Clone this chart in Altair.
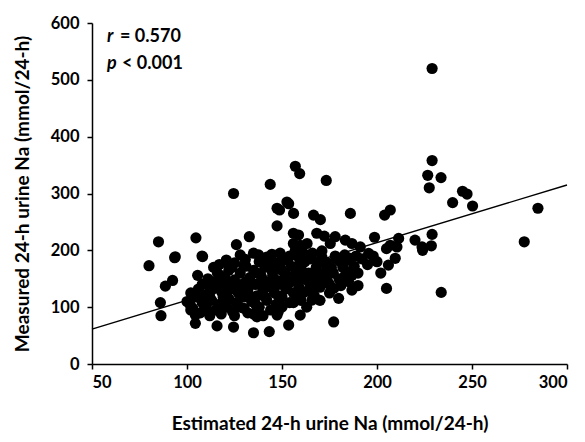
import altair as alt
import pandas as pd

# Estimated 24-h urine Na (x) and measured 24-h urine Na (y)
est_na = [
    80, 85, 93.5, 88.6, 92.4, 86, 86.3, 104.7, 108.2, 105.6,
    124.5, 126, 132.8, 121, 123.7, 129.8, 114, 117.5, 102, 104.4,
    115.8, 124.5, 135, 123.7, 119, 136.8, 143.8, 173.3, 229, 229,
    226.7, 233.7, 227.5, 239.8, 245, 247.4, 250.3, 284.7, 277.5, 233.8,
    229, 228.6, 224, 157, 159.3, 152.6, 148.7, 156.1, 147.4, 166.6,
    170.2, 168.3, 172.3, 156, 158.7, 159.6, 178, 183.3, 171, 186,
    137.7, 144.7, 150, 157, 160.5, 162.3, 204, 207, 186.8, 191.2,
    195.6, 198.7, 207, 211.4, 220, 223.7, 209.6, 185, 186.8, 186.8,
    190, 205, 206, 177.2, 159.6, 153.5, 143.3, 147.4, 157.9, 165.8,
    177.2, 179.8, 172.8, 183.3, 169.3, 93.8, 107.9, 120.7, 130.7, 104.4,
    101.7, 210.5, 205, 175.4, 163.2, 156, 180.7, 186, 174.5, 183,
    189, 147.4, 153.5,
    100, 102, 103, 105, 106, 107, 108, 108, 110, 110,
    111, 112, 113, 113, 115, 115, 116, 117, 118, 118,
    119, 120, 121, 122, 122, 123, 124, 125, 125, 126,
    127, 128, 129, 130, 130, 131, 132, 133, 134, 135,
    135, 136, 137, 138, 138, 139, 140, 141, 142, 142,
    143, 144, 145, 146, 146, 147, 148, 149, 150, 150,
    151, 152, 153, 154, 155, 155, 156, 157, 158, 159,
    160, 160, 161, 162, 163, 164, 165, 166, 167, 168,
    168, 170, 171, 172, 174, 175, 176, 178, 180, 181,
    182, 184, 185, 188, 190, 192, 195, 198, 200, 202,
    112, 116, 120, 121, 126, 128, 131, 133, 136, 137,
    140, 141, 143, 144, 146, 148, 149, 150, 152, 153,
    154, 156, 158, 159, 161, 162, 164, 165, 166, 169,
    170, 171, 173, 175, 177, 179, 117, 128, 135, 112,
    109, 140, 148, 125, 132, 163,
]
meas_na = [
    173, 215, 187, 137, 147, 108, 85, 222, 189, 156,
    300, 210, 224, 178, 170, 173, 170, 156, 95, 71.5,
    67, 65, 55, 142, 118, 83, 316, 323, 520, 358,
    332, 328, 310, 284, 304, 299, 278, 274, 215, 126,
    228, 208, 200, 348, 335, 285, 271, 265, 243, 262,
    254, 230, 225, 230, 227, 209, 224, 218, 199, 265,
    192, 193, 186, 200, 203, 192, 262, 271, 212, 206,
    194.5, 223, 209, 221, 218, 206, 186, 162, 156, 130,
    138, 133, 174, 74, 86, 68.5, 57, 86, 118, 112.5,
    133, 115.5, 156, 156, 180, 188.6, 190, 183, 184, 86,
    104, 206, 203, 212, 212, 212, 180, 186, 177, 192,
    190, 274, 282,
    110, 125, 98, 118, 132, 90, 140, 108, 100, 122,
    150, 85, 130, 112, 95, 145, 160, 105, 128, 88,
    140, 152, 100, 115, 165, 132, 92, 148, 178, 108,
    125, 160, 140, 98, 118, 172, 130, 152, 110, 88,
    165, 140, 120, 180, 100, 155, 130, 170, 112, 188,
    145, 95, 160, 125, 178, 105, 140, 195, 118, 165,
    150, 132, 182, 108, 172, 145, 125, 158, 190, 135,
    112, 168, 150, 180, 128, 160, 140, 195, 120, 170,
    150, 135, 188, 160, 145, 125, 170, 190, 150, 138,
    170, 182, 145, 172, 160, 185, 175, 190, 180, 160,
    118, 138, 125, 110, 135, 100, 145, 120, 105, 160,
    145, 118, 175, 135, 150, 120, 170, 100, 158, 140,
    190, 108, 145, 175, 125, 160, 145, 185, 130, 160,
    112, 145, 175, 140, 160, 185, 175, 192, 195, 135,
    95, 85, 92, 85, 90, 100,
]

# Regression line end points
line_x = [50, 300]
line_y = [61.5, 315]

x_ticks = [50, 100, 150, 200, 250, 300]
y_ticks = [0, 100, 200, 300, 400, 500, 600]

FONT = "Lato"

pts = pd.DataFrame({"est": est_na, "meas": meas_na})
reg = pd.DataFrame({"est": line_x, "meas": line_y})
one = pd.DataFrame({"k": [0]})

xscale = alt.Scale(domain=[50, 300], nice=False, zero=False)
yscale = alt.Scale(domain=[0, 600], nice=False)

xaxis = alt.Axis(
    values=x_ticks, title="Estimated 24-h urine Na (mmol/24-h)",
    grid=False, tickSize=5, tickWidth=1.5, tickColor="black",
    domainColor="black", domainWidth=1.5,
    labelFont=FONT, labelFontSize=16.5, labelFontWeight="bold", labelColor="black",
    labelPadding=5,
    titleFont=FONT, titleFontSize=19, titleFontWeight="bold", titleColor="black",
    titlePadding=24,
)
yaxis = alt.Axis(
    values=y_ticks, title="Measured 24-h urine Na (mmol/24-h)",
    grid=False, tickSize=5, tickWidth=1.5, tickColor="black",
    domainColor="black", domainWidth=1.5,
    labelFont=FONT, labelFontSize=16.5, labelFontWeight="bold", labelColor="black",
    labelPadding=8,
    titleFont=FONT, titleFontSize=19, titleFontWeight="bold", titleColor="black",
    titlePadding=18,
)

points = alt.Chart(pts).mark_circle(size=125, color="black", opacity=1).encode(
    x=alt.X("est:Q", scale=xscale, axis=xaxis),
    y=alt.Y("meas:Q", scale=yscale, axis=yaxis),
)

line = alt.Chart(reg).mark_line(color="black", strokeWidth=1.4).encode(
    x=alt.X("est:Q", scale=xscale),
    y=alt.Y("meas:Q", scale=yscale),
)

def txt(s, x, y, italic=False):
    return alt.Chart(one).mark_text(
        text=s, align="left", baseline="alphabetic", font=FONT,
        fontSize=18, fontWeight="bold", fontStyle="italic" if italic else "normal",
        color="black",
    ).encode(x=alt.value(x), y=alt.value(y))

ann = (
    txt("r", 15, 19, True) + txt("= 0.570", 28, 19)
    + txt("p", 15, 45.5, True) + txt("< 0.001", 30, 45.5)
)

chart = (points + line + ann).properties(
    width=475, height=341,
    autosize=alt.AutoSizeParams(type="none"),
    padding={"left": 92, "top": 23, "right": 18, "bottom": 78},
).configure_view(stroke=None)

chart.save("out.html", embed_options={"renderer": "svg", "actions": False})
